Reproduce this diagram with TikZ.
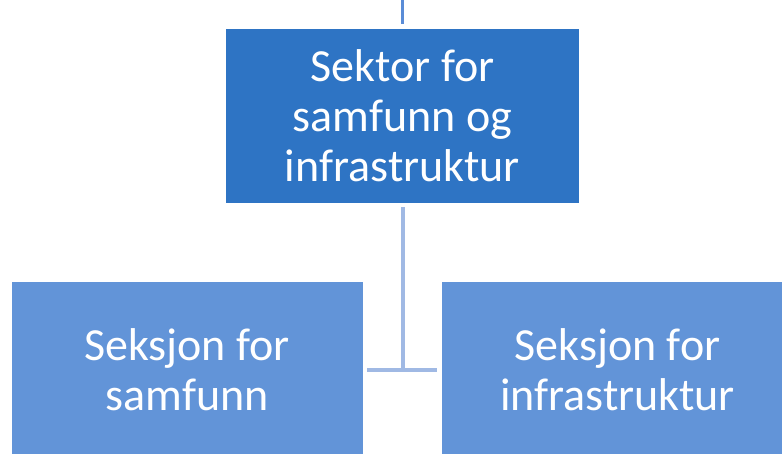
\documentclass[tikz,border=0pt]{standalone}
\usepackage{fontspec}
\setmainfont{Carlito}
\definecolor{topblue}{RGB}{46,116,196}
\definecolor{childblue}{RGB}{98,148,216}
\definecolor{linkblue}{RGB}{160,185,228}
\definecolor{stubblue}{RGB}{90,140,215}
\tikzset{
  orgbox/.style={draw=none, text=white, align=center, inner sep=0pt,
    font=\fontsize{46}{50}\selectfont},
  topbox/.style={orgbox, fill=topblue, minimum width=353pt, minimum height=174pt},
  childbox/.style={orgbox, fill=childblue, minimum width=351pt, minimum height=176pt},
  link/.style={draw=linkblue, line width=4.5pt},
  stub/.style={draw=stubblue, line width=3.5pt}
}
\begin{document}
\begin{tikzpicture}[x=1pt,y=-1pt]
\useasboundingbox (0,0) rectangle (782,454);
\clip (0,0) rectangle (782,454);
\node[topbox] (top) at (402.5,116) {Sektor for\\samfunn og\\infrastruktur};
\node[childbox] (left) at (187,370) {Seksjon for\\samfunn};
\node[childbox] (right) at (617.5,370) {Seksjon for\\infrastruktur};
\coordinate (stubtop) at (402.5,0);
\coordinate (stubend) at (402.5,24);
\coordinate (vstart) at (403,207);
\coordinate (junction) at (403,370);
\coordinate (hleft) at (367,370);
\coordinate (hright) at (437,370);
\draw[stub] (stubtop) -- (stubend);
\draw[link] (vstart) -- (junction);
\draw[link] (hleft) -- (hright);
\end{tikzpicture}
\end{document}
